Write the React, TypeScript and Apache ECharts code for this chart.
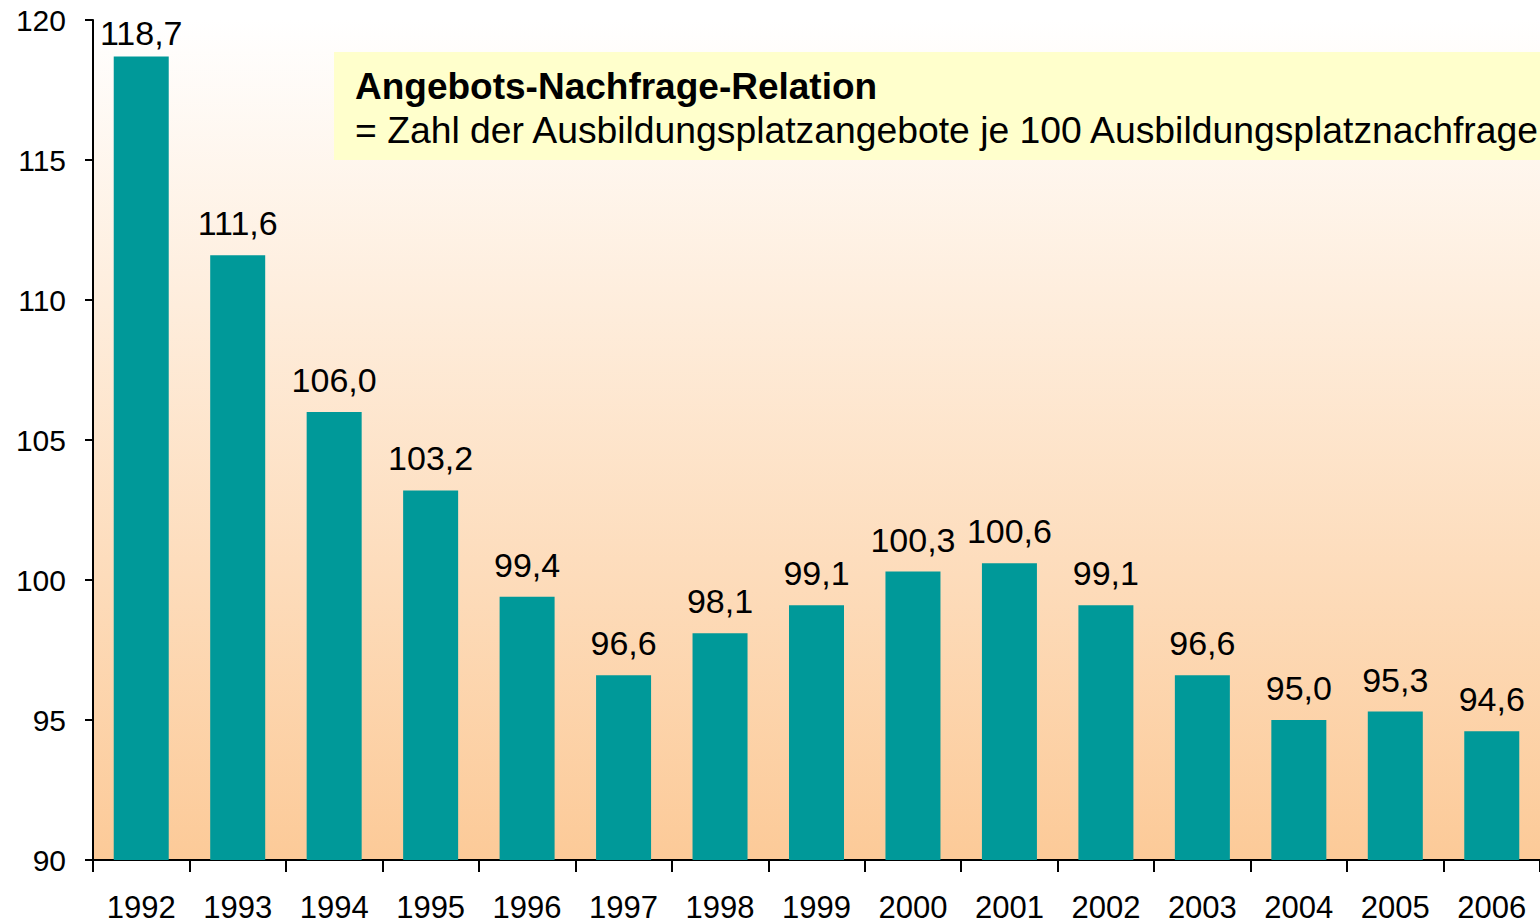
import React, { useEffect, useRef } from "react";
import * as echarts from "echarts";

const years = ["1992", "1993", "1994", "1995", "1996", "1997", "1998", "1999", "2000", "2001", "2002", "2003", "2004", "2005", "2006"];
const values = [118.7, 111.6, 106.0, 103.2, 99.4, 96.6, 98.1, 99.1, 100.3, 100.6, 99.1, 96.6, 95.0, 95.3, 94.6];
const titleText = "Angebots-Nachfrage-Relation";
const subtitleText = "= Zahl der Ausbildungsplatzangebote je 100 Ausbildungsplatznachfrage";

const FONT = "'Liberation Sans', Arial, sans-serif";

export default function App() {
  const ref = useRef<HTMLDivElement>(null);
  useEffect(() => {
    document.body.style.margin = "0";
    const chart = echarts.init(ref.current!, null, { renderer: "svg" });
    chart.setOption({
      animation: false,
      backgroundColor: "#ffffff",
      textStyle: { fontFamily: FONT },
      grid: {
        left: 93,
        right: 0,
        top: 20,
        bottom: 63,
        show: true,
        borderWidth: 0,
        backgroundColor: {
          type: "linear",
          x: 0, y: 0, x2: 0, y2: 1,
          colorStops: [
            { offset: 0, color: "#FFFFFF" },
            { offset: 1, color: "#FCCA98" },
          ],
        },
      },
      xAxis: {
        type: "category",
        data: years,
        axisLine: { show: true, lineStyle: { color: "#000", width: 2 } },
        axisTick: { show: true, length: 12, lineStyle: { color: "#000", width: 2 } },
        axisLabel: { color: "#000", fontSize: 31, lineHeight: 24, fontFamily: FONT, margin: 35 },
        splitLine: { show: false },
      },
      yAxis: {
        type: "value",
        min: 90,
        max: 120,
        interval: 5,
        axisLine: { show: true, lineStyle: { color: "#000", width: 2 } },
        axisTick: { show: true, length: 8, lineStyle: { color: "#000", width: 2 } },
        axisLabel: { color: "#000", fontSize: 30, fontFamily: FONT, margin: 27 },
        splitLine: { show: false },
      },
      series: [
        {
          type: "bar",
          data: values.map((v, i) => (i === 0 ? { value: v, label: { distance: 6 } } : v)),
          barWidth: 55,
          itemStyle: { color: "#009999" },
          label: {
            show: true,
            position: "top",
            distance: 15,
            color: "#000",
            fontSize: 34,
            fontFamily: FONT,
            formatter: (p: any) => Number(p.value).toFixed(1).replace(".", ","),
          },
        },
      ],
      graphic: [
        {
          type: "rect",
          shape: { x: 334, y: 52, width: 1206, height: 108 },
          style: { fill: "#FFFFCC" },
          z: 1,
        },
        {
          type: "text",
          x: 355,
          y: 86,
          style: {
            text: titleText,
            font: `bold 37px ${FONT}`,
            fill: "#000",
            verticalAlign: "middle",
          },
          z: 2,
        },
        {
          type: "text",
          x: 355,
          y: 130,
          style: {
            text: subtitleText,
            font: `37.3px ${FONT}`,
            fill: "#000",
            verticalAlign: "middle",
          },
          z: 2,
        },
      ],
    });
    return () => chart.dispose();
  }, []);
  return <div ref={ref} style={{ position: "fixed", left: 0, top: 0, width: 1540, height: 923 }} />;
}
